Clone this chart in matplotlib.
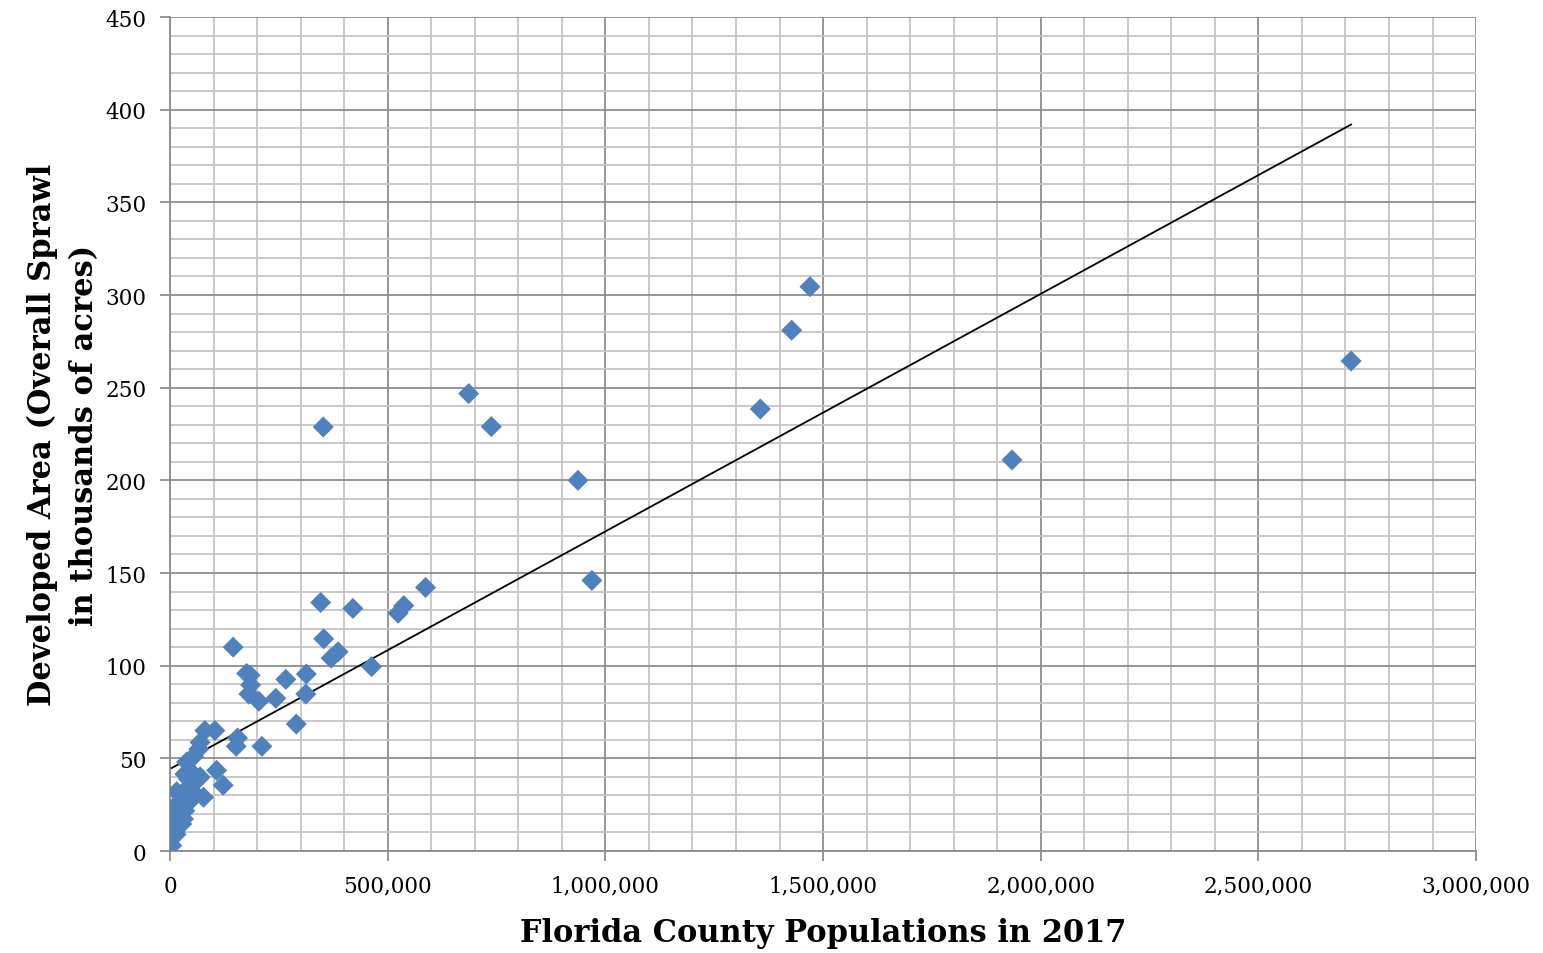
import numpy as np
import matplotlib.pyplot as plt
from matplotlib.ticker import MultipleLocator, FuncFormatter

# county population (2017) and developed area (thousands of acres)
population = [2713000, 1934000, 1470000, 1428000, 1356000, 969000, 937000, 738000,
              686000, 587000, 537000, 524000, 463000, 420000, 386000, 370000,
              353000, 346000, 352000, 313000, 312000, 290000, 266000, 243000,
              211000, 204000, 184000, 176000, 185000, 181000, 145000, 152000,
              155000, 107000, 122000, 103000, 80000, 69000, 66000, 77000,
              54000, 38000, 69000, 65000, 46000, 42000, 34000, 54000,
              46000, 38000, 15000, 23000, 31000, 34000, 11000, 8000,
              27000, 31000, 11000, 8500, 4000, 13000, 17000, 20000,
              25000, 16000, 14000]
developed = [264.4, 211.0, 304.5, 281.0, 238.5, 146.0, 200.0, 229.0,
             246.8, 142.2, 132.4, 128.3, 99.5, 130.9, 107.5, 104.1,
             114.5, 134.1, 228.8, 95.5, 84.7, 68.5, 92.6, 82.4,
             56.5, 80.8, 94.8, 95.8, 89.6, 84.7, 110.0, 56.5,
             61.0, 43.5, 35.5, 65.0, 65.0, 58.6, 55.0, 29.0,
             51.0, 48.0, 40.0, 38.9, 43.3, 38.9, 41.5, 31.6,
             27.0, 33.5, 32.0, 27.0, 25.4, 21.7, 22.0, 19.0,
             14.6, 17.3, 11.0, 10.0, 3.0, 14.0, 24.0, 20.0,
             30.0, 17.0, 9.0]

x = np.array(population, dtype=float)
y = np.array(developed, dtype=float)

plt.rcParams['font.family'] = ['DejaVu Serif']

fig = plt.figure(figsize=(15.43, 9.54), dpi=100)
ax = fig.add_axes([0.1102, 0.1069, 0.8464, 0.8742])

# linear trendline from min to max x
slope, intercept = np.polyfit(x, y, 1)
xs = np.array([x.min(), x.max()])
ax.plot(xs, slope * xs + intercept, color='black', linewidth=1.3, zorder=3)

ax.scatter(x, y, marker='D', s=115, color='#4F81BD', edgecolors='none', zorder=4)

ax.set_xlim(0, 3000000)
ax.set_ylim(0, 450)
ax.xaxis.set_major_locator(MultipleLocator(500000))
ax.xaxis.set_minor_locator(MultipleLocator(100000))
ax.yaxis.set_major_locator(MultipleLocator(50))
ax.yaxis.set_minor_locator(MultipleLocator(10))
ax.xaxis.set_major_formatter(FuncFormatter(lambda v, p: '{:,.0f}'.format(v)))

ax.grid(which='major', color='#8c8c8c', linewidth=1.3)
ax.grid(which='minor', color='#c4c4c4', linewidth=1.3)
ax.set_axisbelow(True)
for side in ['top', 'right']:
    ax.spines[side].set_visible(False)
for side in ['left', 'bottom']:
    ax.spines[side].set_color('#8c8c8c')
    ax.spines[side].set_linewidth(1.3)

ax.tick_params(which='major', direction='out', length=7, width=1.3, color='#8c8c8c',
               labelsize=15.5, pad=10)
ax.tick_params(which='minor', length=0)

ax.set_xlabel('Florida County Populations in 2017', fontsize=22, fontweight='bold',
              labelpad=15)
ax.set_ylabel('Developed Area (Overall Sprawl\nin thousands of acres)', fontsize=22,
              fontweight='bold', labelpad=4, linespacing=1.45)

plt.savefig('out.png', dpi=100)
